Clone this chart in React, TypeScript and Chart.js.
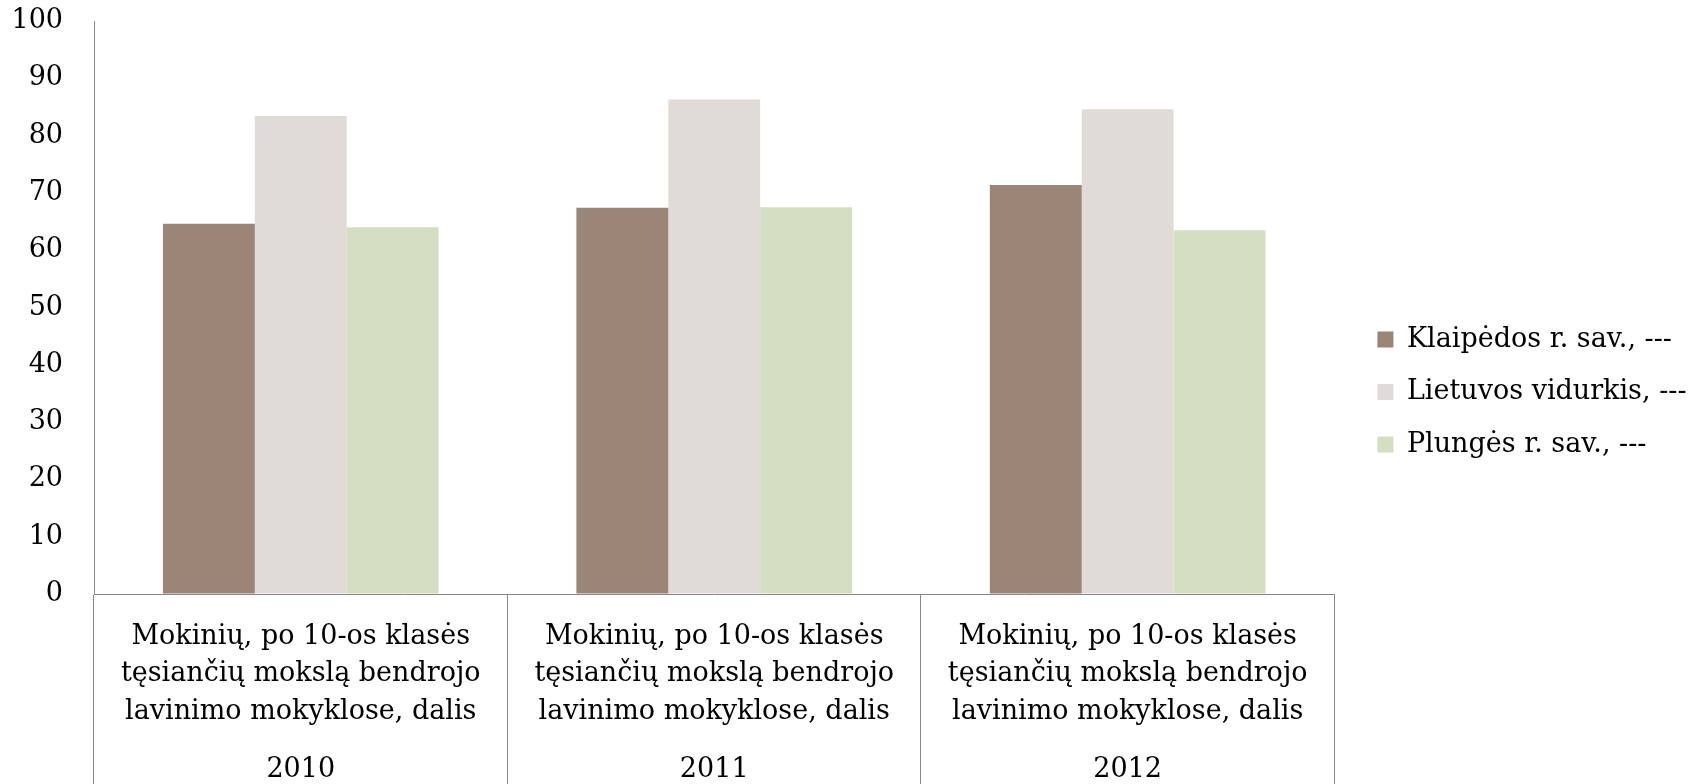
import React, { useEffect, useRef } from "react";
import { Chart, registerables } from "chart.js";

Chart.register(...registerables);

const categoryLines: string[] = [
  "Mokinių, po 10-os klasės",
  "tęsiančių mokslą bendrojo",
  "lavinimo mokyklose, dalis",
];
const years: string[] = ["2010", "2011", "2012"];
const klaipedos: number[] = [64.6, 67.4, 71.4];
const lietuvos: number[] = [83.4, 86.3, 84.6];
const plunges: number[] = [64.0, 67.5, 63.5];
const seriesNames: string[] = [
  "Klaipėdos r. sav., ---",
  "Lietuvos vidurkis, ---",
  "Plungės r. sav., ---",
];
const yTicks: number[] = [0, 10, 20, 30, 40, 50, 60, 70, 80, 90, 100];

const FONT = "'DejaVu Serif', serif";
const AXIS_GRAY = "#878787";

export default function App() {
  const ref = useRef<HTMLCanvasElement | null>(null);

  useEffect(() => {
    if (!ref.current) return;
    const chart = new Chart(ref.current, {
      type: "bar",
      data: {
        labels: years.map(() => categoryLines),
        datasets: [
          { label: seriesNames[0], data: klaipedos, backgroundColor: "#9B8577" },
          { label: seriesNames[1], data: lietuvos, backgroundColor: "#E0DBD7" },
          { label: seriesNames[2], data: plunges, backgroundColor: "#D4DEC0" },
        ],
      },
      options: {
        responsive: false,
        animation: false,
        layout: { padding: { left: 0, top: 0, bottom: 0, right: 3.5 } },
        datasets: {
          bar: { categoryPercentage: 2 / 3, barPercentage: 1, borderWidth: 0 },
        },
        plugins: {
          tooltip: { enabled: false },
          legend: {
            position: "right",
            align: "center",
            maxWidth: 500,
            labels: {
              boxWidth: 16,
              boxHeight: 16,
              padding: 25.5,
              color: "#000",
              font: { family: FONT, size: 27 },
            },
          },
        },
        scales: {
          x: {
            type: "category",
            position: "bottom",
            offset: true,
            grid: {
              display: true,
              offset: true,
              drawOnChartArea: false,
              drawTicks: true,
              tickLength: 190,
              color: AXIS_GRAY,
              lineWidth: 1,
            },
            border: { display: true, color: AXIS_GRAY, width: 1 },
            ticks: {
              autoSkip: false,
              maxRotation: 0,
              minRotation: 0,
              padding: -166,
              color: "#000",
              font: { family: FONT, size: 27, lineHeight: 1.389 },
            },
            afterFit: (s: any) => {
              s.height = 150;
            },
          },
          x2: {
            type: "category",
            position: "bottom",
            labels: years,
            offset: true,
            grid: { display: false, drawTicks: false },
            border: { display: false },
            ticks: {
              autoSkip: false,
              maxRotation: 0,
              padding: 10,
              color: "#000",
              font: { family: FONT, size: 27, lineHeight: 1.2 },
            },
            afterFit: (s: any) => {
              s.height = 40;
            },
          },
          y: {
            type: "linear",
            position: "left",
            min: 0,
            max: 100,
            afterBuildTicks: (s: any) => {
              s.ticks = yTicks.map((v) => ({ value: v }));
            },
            grid: {
              display: true,
              drawOnChartArea: false,
              drawTicks: true,
              tickLength: 31,
              tickColor: "rgba(0,0,0,0)",
            },
            border: { display: true, color: AXIS_GRAY, width: 1 },
            ticks: {
              padding: 0,
              color: "#000",
              font: { family: FONT, size: 27, lineHeight: 1.556 },
            },
            afterFit: (s: any) => {
              s.width = 94;
            },
          },
          y2: {
            type: "linear",
            position: "right",
            display: true,
            grid: { display: false, drawTicks: false },
            border: { display: false },
            ticks: { display: false },
            afterFit: (s: any) => {
              s.width = 17.5;
            },
          },
        },
      },
    });
    return () => chart.destroy();
  }, []);

  return (
    <div style={{ position: "absolute", left: 0, top: 0, width: 1700, height: 784, background: "#fff" }}>
      <canvas ref={ref} width={1700} height={784} style={{ display: "block" }} />
    </div>
  );
}
